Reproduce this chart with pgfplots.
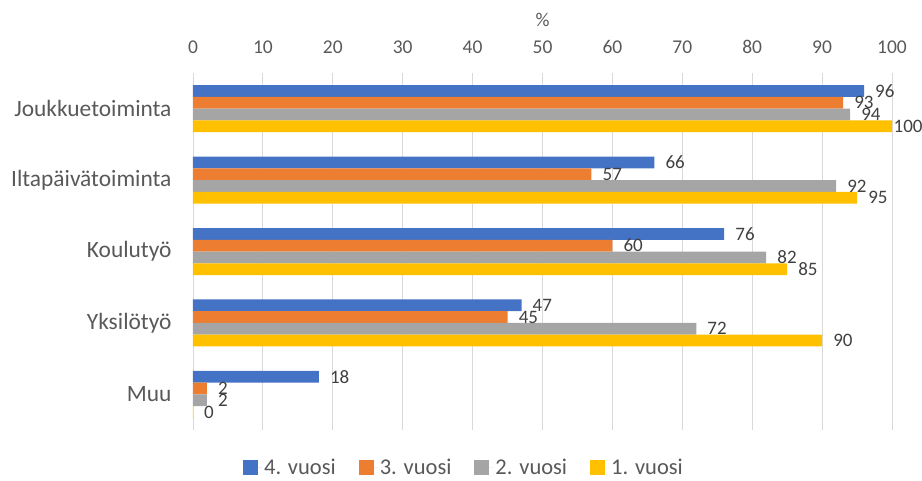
\documentclass[border=0pt]{standalone}
\usepackage{fontspec}
\setmainfont{Carlito}
\usepackage{pgfplots}
\pgfplotsset{compat=1.18}
\definecolor{c4}{HTML}{4472C4}
\definecolor{c3}{HTML}{ED7D31}
\definecolor{c2}{HTML}{A5A5A5}
\definecolor{c1}{HTML}{FFC000}
\definecolor{gridc}{HTML}{D9D9D9}
\definecolor{tickc}{HTML}{595959}
\definecolor{labc}{HTML}{404040}
\begin{document}
\begin{tikzpicture}
\path[use as bounding box] (0pt,0pt) rectangle (922pt,-481pt);
\begin{axis}[
  at={(193pt,-73pt)}, anchor=north west,
  scale only axis, width=699pt, height=357pt,
  xbar=0pt, bar width=11.75pt,
  xmin=0, xmax=100, ymin=-0.5, ymax=4.5,
  y dir=reverse,
  axis line style={draw=none},
  axis x line*=top,
  xtick={0,10,...,100},
  ytick={0,1,2,3,4},
  yticklabels={Joukkuetoiminta,Iltapäivätoiminta,Koulutyö,Yksilötyö,Muu},
  major tick length=0pt,
  xmajorgrids, major grid style={gridc, line width=0.8pt},
  /pgf/number format/assume math mode=true,
  x tick label style={font=\fontsize{19.5}{19.5}\selectfont, text=tickc, anchor=center, yshift=26pt},
  y tick label style={font=\fontsize{23.4}{23.4}\selectfont, text=tickc, xshift=-18pt},
  xlabel={\%},
  every axis x label/.style={at={(axis description cs:0.5,1)}, anchor=center, yshift=53pt, font=\fontsize{19.5}{19.5}\selectfont, text=tickc},
  nodes near coords,
  visualization depends on={x \as \rawx},
  every node near coord/.append style={font=\fontsize{19}{19}\selectfont, text=labc, anchor=west, inner sep=0pt,
     xshift={\rawx>99 ? 1.5 : 11}},
  legend columns=4,
  legend style={draw=none, at={(axis description cs:0.3877,-0.1064)}, anchor=center,
    font=\fontsize{22.5}{22.5}\selectfont, text=tickc, inner xsep=0pt,
    /tikz/every even column/.append style={column sep=21pt}},
  legend image code/.code={\fill[#1,draw=none] (0pt,-7.5pt) rectangle (15pt,7.5pt); \path (0pt,0pt) -- (19pt,0pt);},
]
\addplot[fill=c4, draw=none, bar shift=17.625pt] coordinates {(96,0) (66,1) (76,2) (47,3) (18,4)};
\addplot[fill=c3, draw=none, bar shift=5.875pt] coordinates {(93,0) (57,1) (60,2) (45,3) (2,4)};
\addplot[fill=c2, draw=none, bar shift=-5.875pt] coordinates {(94,0) (92,1) (82,2) (72,3) (2,4)};
\addplot[fill=c1, draw=none, bar shift=-17.625pt] coordinates {(100,0) (95,1) (85,2) (90,3) (0,4)};
\legend{4. vuosi,3. vuosi,2. vuosi,1. vuosi}
\end{axis}
\end{tikzpicture}
\end{document}
